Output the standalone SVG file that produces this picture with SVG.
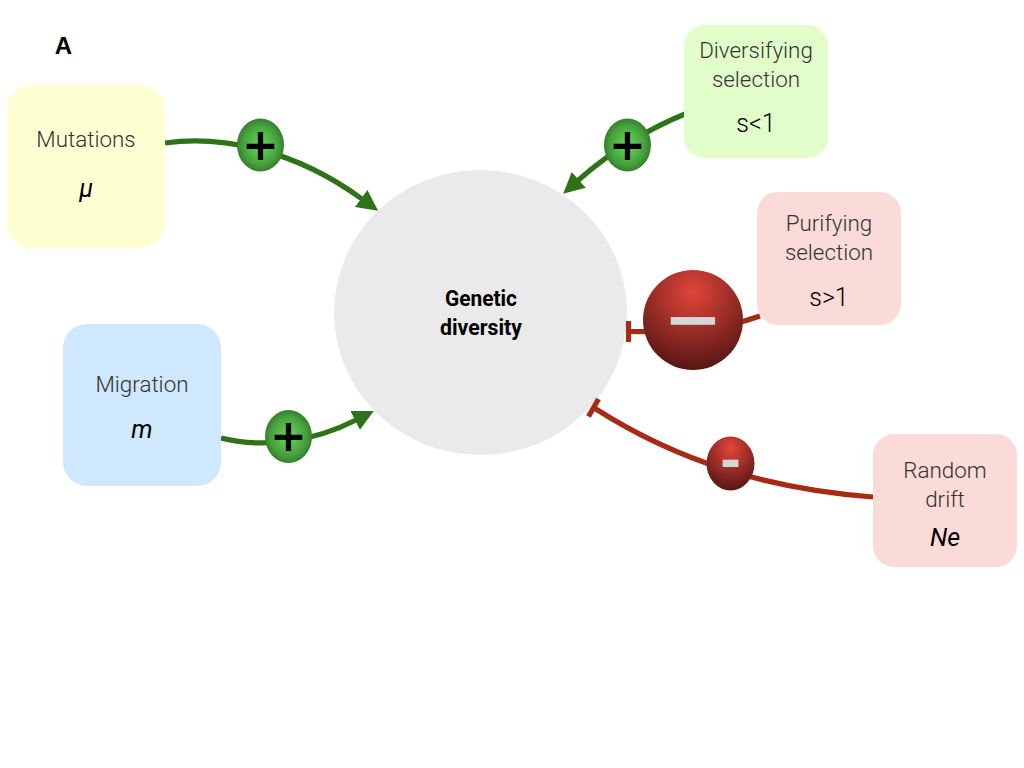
<svg xmlns="http://www.w3.org/2000/svg" width="1024" height="768" viewBox="0 0 1024 768">
<style>
.lbl{font-family:"Roboto","Liberation Sans",sans-serif;font-weight:300;font-size:22.4px;fill:#333;text-anchor:middle}
.val{font-family:"Roboto","Liberation Sans",sans-serif;font-weight:300;font-size:25px;fill:#000;text-anchor:middle}
.it{font-style:italic;font-weight:400}
.title{font-family:"Liberation Sans",sans-serif;font-weight:700;font-size:24px;fill:#000;text-anchor:middle}
.core{font-family:"Roboto","Liberation Sans",sans-serif;font-weight:700;font-size:22px;fill:#000;text-anchor:middle}
.plus{font-family:"DejaVu Sans",sans-serif;font-weight:700;font-size:44px;fill:#000;text-anchor:middle}
.minus{font-family:"Liberation Sans",sans-serif;fill:#d6d6d6;text-anchor:middle}
.g{fill:none;stroke:#2f7318;stroke-width:5.2}
.r{fill:none;stroke:#a92a14;stroke-width:5.2}
</style>
<defs>
<radialGradient id="gg" cx="0.5" cy="0.5" r="0.5"><stop offset="0" stop-color="#63d857"/><stop offset="0.35" stop-color="#58c04d"/><stop offset="0.75" stop-color="#46a03c"/><stop offset="1" stop-color="#367f2e"/></radialGradient>
<radialGradient id="rg" cx="0.5" cy="0.22" r="0.85"><stop offset="0" stop-color="#e2453a"/><stop offset="1" stop-color="#4a1210"/></radialGradient>
<marker id="arr" markerUnits="userSpaceOnUse" markerWidth="26" markerHeight="26" refX="1" refY="10.500" orient="auto"><path d="M0 0L21 10.500L0 21Z" fill="#2f7318"/></marker>
</defs>
<text class="title" x="63.500" y="53.500">A</text>
<g id="genetic-diversity"><ellipse cx="480.500" cy="312.500" rx="146.500" ry="142.500" fill="#eaeaea"/>
<text class="core" x="481" y="306" textLength="72" lengthAdjust="spacingAndGlyphs">Genetic</text><text class="core" x="481" y="335" textLength="82" lengthAdjust="spacingAndGlyphs">diversity</text></g>
<g id="connectors">
<path class="g" d="M165 143C222 135 295 150 362 199" marker-end="url(#arr)"/>
<path class="g" d="M685 114C650 128 610 152 578 180.500" marker-end="url(#arr)"/>
<path class="g" d="M221 438C265 449 315 441 356 420" marker-end="url(#arr)"/>
<path class="r" d="M760 316C725 329 680 332 628 331.500"/>
<path class="r" d="M628.500 321V342"/>
<path class="r" d="M873 497C770 489 680 463 593.500 407.500"/>
<path class="r" d="M598.500 399L588.500 416.500"/>
</g>
<g id="mutations"><rect x="7" y="85" width="158" height="163" rx="24" fill="#ffffd4"/><text class="lbl" x="86" y="147">Mutations</text><text class="val it" x="86" y="197">μ</text></g>
<g id="migration"><rect x="63" y="324" width="158" height="162" rx="24" fill="#cfe8fd"/><text class="lbl" x="142" y="392">Migration</text><text class="val it" x="142" y="438">m</text></g>
<g id="diversifying"><rect x="684" y="25" width="144" height="133" rx="21" fill="#e1fdca"/><text class="lbl" x="756" y="58">Diversifying</text><text class="lbl" x="756" y="87">selection</text><text class="val" x="756" y="132">s&lt;1</text></g>
<g id="purifying"><rect x="757" y="192" width="144" height="133" rx="21" fill="#fadbd8"/><text class="lbl" x="829" y="231">Purifying</text><text class="lbl" x="829" y="260">selection</text><text class="val" x="829" y="306">s&gt;1</text></g>
<g id="drift"><rect x="873" y="434" width="144" height="133" rx="21" fill="#fadbd8"/><text class="lbl" x="945" y="478">Random</text><text class="lbl" x="945" y="507">drift</text><text class="val it" x="945" y="546">Ne</text></g>
<g id="plus-mutations"><ellipse cx="260.500" cy="145" rx="23.500" ry="26.500" fill="url(#gg)"/><text class="plus" x="260.500" y="159.500">+</text></g>
<g id="plus-diversifying"><ellipse cx="627.500" cy="145" rx="23.500" ry="26.500" fill="url(#gg)"/><text class="plus" x="627.500" y="159.500">+</text></g>
<g id="plus-migration"><ellipse cx="288.500" cy="436.500" rx="23.500" ry="26.500" fill="url(#gg)"/><text class="plus" x="288.500" y="451">+</text></g>
<g id="minus-purifying"><circle cx="693" cy="320" r="50" fill="url(#rg)"/><text class="minus" style="font-size:88px;stroke:#d6d6d6;stroke-width:1.500" x="693" y="349.500">−</text></g>
<g id="minus-drift"><ellipse cx="730.500" cy="463.500" rx="24" ry="27" fill="url(#rg)"/><text class="minus" style="font-size:62px;font-weight:700" x="730.500" y="479">-</text></g>
</svg>
